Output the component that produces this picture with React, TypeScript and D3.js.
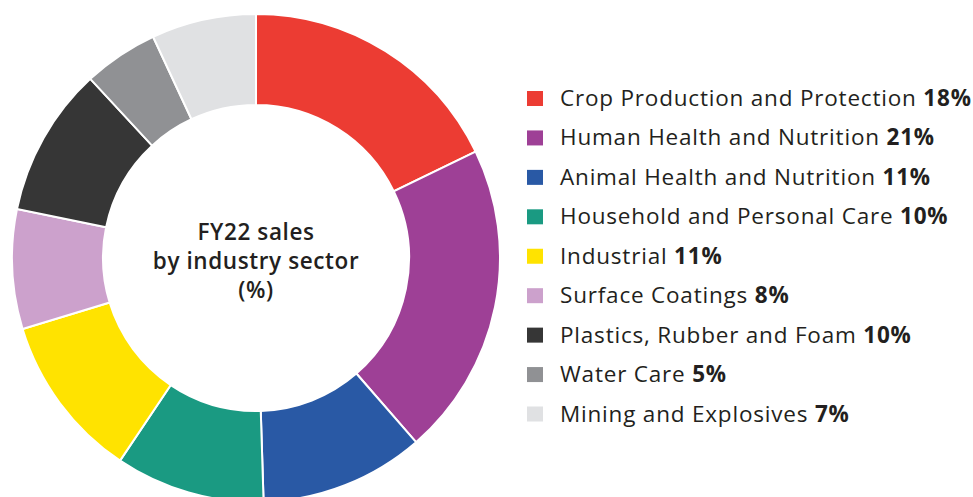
import React from "react";
import * as d3 from "d3";

const categories = [
  "Crop Production and Protection",
  "Human Health and Nutrition",
  "Animal Health and Nutrition",
  "Household and Personal Care",
  "Industrial",
  "Surface Coatings",
  "Plastics, Rubber and Foam",
  "Water Care",
  "Mining and Explosives",
];
const values = [18, 21, 11, 10, 11, 8, 10, 5, 7];
const colors = [
  "#ec3c33",
  "#9e4096",
  "#2959a5",
  "#1a9a82",
  "#ffe300",
  "#cca1cc",
  "#363636",
  "#909194",
  "#e0e1e3",
];
const centerLines = ["FY22 sales", "by industry sector", "(%)"];

const W = 973;
const H = 497;
const cx = 256;
const cy = 258;
const outerR = 244;
const innerR = 153;
const font = "'Open Sans', sans-serif";
const textColor = "#231f20";

export default function App() {
  const data = categories.map((c, i) => ({ name: c, value: values[i], color: colors[i] }));
  const pie = d3.pie<any>().value((d) => d.value).sort(null);
  const arc = d3.arc<any>().innerRadius(innerR).outerRadius(outerR);
  const arcs = pie(data);
  const legendY = d3.scaleLinear().domain([0, categories.length - 1]).range([98.5, 414]);

  return (
    <svg
      width={W}
      height={H}
      style={{ position: "absolute", left: 0, top: 0, display: "block", background: "#fff" }}
    >
      <g transform={`translate(${cx},${cy})`}>
        {arcs.map((a, i) => (
          <path key={i} d={arc(a) as string} fill={a.data.color} stroke="#fff" strokeWidth={2} />
        ))}
        {centerLines.map((t, i) => (
          <text
            key={i}
            x={0}
            y={-18 + i * 29}
            textAnchor="middle"
            fontFamily={font}
            fontWeight={600}
            fontSize={22.5}
            letterSpacing={0.6}
            fill={textColor}
          >
            {t}
          </text>
        ))}
      </g>
      <g>
        {data.map((d, i) => (
          <g key={i} transform={`translate(0,${legendY(i)})`}>
            <rect x={527} y={-7.5} width={16} height={15} fill={d.color} />
            <text
              x={560}
              y={7.5}
              fontFamily={font}
              fontSize={22.5}
              letterSpacing={0.8}
              fill={textColor}
            >
              {d.name + " "}
              <tspan fontWeight={700}>{d.value}%</tspan>
            </text>
          </g>
        ))}
      </g>
    </svg>
  );
}
